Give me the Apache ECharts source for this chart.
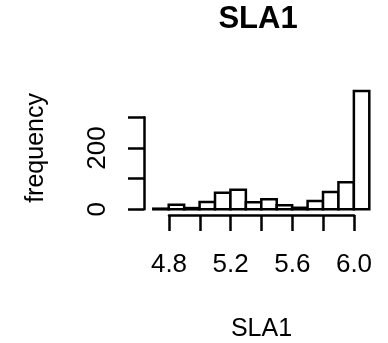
<!DOCTYPE html>
<html>
<head>
<meta charset="utf-8">
<script src="https://cdn.jsdelivr.net/npm/echarts@6/dist/echarts.min.js"></script>
<style>
  html, body { margin: 0; padding: 0; background: #fff; }
  #main { width: 388px; height: 343px; }
</style>
</head>
<body>
<div id="main"></div>
<script>
// histogram bins of SLA1 (width 0.1)
const binStarts = [4.7, 4.8, 4.9, 5.0, 5.1, 5.2, 5.3, 5.4, 5.5, 5.6, 5.7, 5.8, 5.9, 6.0];
const binWidth = 0.1;
const counts = [2, 15, 4, 24, 54, 64, 23, 33, 13, 5, 27, 56, 88, 386];
const xTickLabels = [4.8, 5.2, 5.6, 6.0];
const yTickLabels = [0, 200];

const chart = echarts.init(document.getElementById('main'));
const font = 'Liberation Sans, Arial, Helvetica, sans-serif';

const barData = binStarts.map((s, i) => [s, s + binWidth, counts[i]]);

const option = {
  animation: false,
  backgroundColor: '#fff',
  title: {
    text: 'SLA1',
    left: 258,
    top: 4,
    padding: 0,
    textAlign: 'center',
    textStyle: { fontFamily: font, fontSize: 31, fontWeight: 'bold', color: '#000' }
  },
  grid: [
    // bars
    { left: 153.3, right: 18.7, top: 86.6, bottom: 133.7 },
    // x axis (offset below the bars)
    { left: 169, right: 34, top: 100, bottom: 128 },
    // y axis (offset left)
    { left: 144, width: 10, top: 117.3, bottom: 133.7 }
  ],
  xAxis: [
    { gridIndex: 0, type: 'value', min: 4.7, max: 6.1, show: false },
    {
      gridIndex: 1, type: 'value', min: 4.8, max: 6.0, interval: 0.2,
      splitLine: { show: false },
      axisLine: { show: true, lineStyle: { color: '#000', width: 2.5 } },
      axisTick: { show: true, inside: false, length: 16, lineStyle: { color: '#000', width: 2.5 } },
      axisLabel: {
        customValues: xTickLabels,
        margin: 37, color: '#000', fontFamily: font, fontSize: 26,
        formatter: v => v.toFixed(1)
      },
      name: 'SLA1', nameLocation: 'middle', nameGap: 102,
      nameTextStyle: { fontFamily: font, fontSize: 25, color: '#000' }
    },
    { gridIndex: 2, type: 'value', show: false }
  ],
  yAxis: [
    {
      gridIndex: 0, type: 'value', min: 0, max: 400,
      axisLine: { show: false }, axisTick: { show: false },
      axisLabel: { show: false }, splitLine: { show: false },
      name: 'frequency', nameLocation: 'middle', nameRotate: 90, nameGap: 105,
      nameTextStyle: { fontFamily: font, fontSize: 25, color: '#000' }
    },
    { gridIndex: 1, type: 'value', show: false },
    {
      gridIndex: 2, type: 'value', min: 0, max: 300, interval: 100,
      splitLine: { show: false },
      axisLine: { show: true, lineStyle: { color: '#000', width: 2.5 } },
      axisTick: { show: true, inside: false, length: 16, lineStyle: { color: '#000', width: 2.5 } },
      axisLabel: {
        customValues: yTickLabels,
        rotate: 90, align: 'center', verticalAlign: 'bottom',
        margin: 33, color: '#000', fontFamily: font, fontSize: 26
      }
    }
  ],
  series: [
    {
      type: 'custom',
      xAxisIndex: 0,
      yAxisIndex: 0,
      data: barData,
      renderItem: function (params, api) {
        const p0 = api.coord([api.value(0), api.value(2)]);
        const p1 = api.coord([api.value(1), 0]);
        return {
          type: 'rect',
          shape: { x: p0[0], y: p0[1], width: p1[0] - p0[0], height: p1[1] - p0[1] },
          style: { fill: '#fff', stroke: '#000', lineWidth: 2.5 }
        };
      }
    }
  ]
};

chart.setOption(option);
</script>
</body>
</html>
